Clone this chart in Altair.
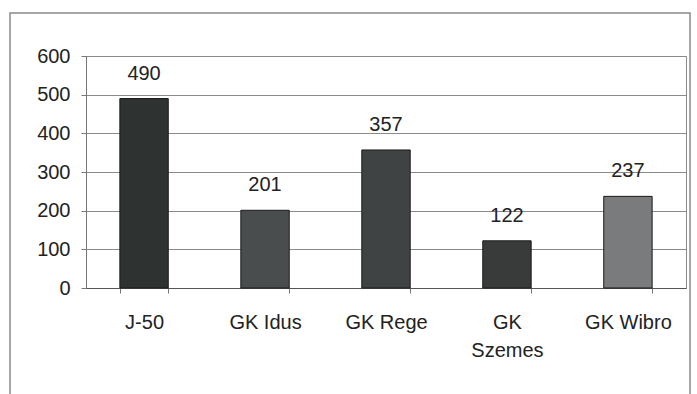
import altair as alt
import pandas as pd

categories = ["J-50", "GK Idus", "GK Rege", "GK Szemes", "GK Wibro"]
values = [490, 201, 357, 122, 237]
colors = ["#2e3230", "#4a4d4e", "#404343", "#383b3a", "#7a7b7c"]
y_ticks = [0, 100, 200, 300, 400, 500, 600]

df = pd.DataFrame({"cat": categories, "val": values, "col": colors})

FONT = "Liberation Sans"
FS = 20

x = alt.X("cat:N", sort=categories, title=None,
          scale=alt.Scale(paddingInner=0.6, paddingOuter=0.28),
          axis=alt.Axis(labelAngle=0, labelFont=FONT, labelFontSize=FS, labelColor="#222",
                        labelPadding=19, labelBaseline="top", labelLineHeight=28,
                        labelExpr="datum.label == 'GK Szemes' ? ['GK', 'Szemes'] : datum.label",
                        tickBand="extent", tickSize=5, tickColor="#777", domainColor="#555",
                        grid=False, labelOverlap=False))
y = alt.Y("val:Q", title=None,
          scale=alt.Scale(domain=[0, 600], nice=False),
          axis=alt.Axis(values=y_ticks, tickCount=7, labelFont=FONT, labelFontSize=FS,
                        labelColor="#222", labelPadding=11, tickSize=5, tickColor="#777",
                        labelOverlap=False, labelBound=False, labelFlush=False,
                        domainColor="#777", gridColor="#8a8a8a", gridWidth=1))

bars = alt.Chart(df).mark_bar(stroke="#1a1a1a", strokeWidth=1).encode(
    x=x, y=y, color=alt.Color("col:N", scale=None))

labels = alt.Chart(df).mark_text(font=FONT, fontSize=FS, color="#222", baseline="alphabetic", dy=-19).encode(
    x=x, y=y, text="val:Q")

frame = alt.Chart(pd.DataFrame({"a": [0]})).mark_rect(fill=None, stroke="#8a8a8a", strokeWidth=1.5).encode(
    x=alt.value(-76), x2=alt.value(604), y=alt.value(-43), y2=alt.value(400))

chart = alt.layer(frame, bars, labels).properties(
    width=600, height=232,
    autosize=alt.AutoSizeParams(type="none"),
    padding={"left": 86, "top": 56, "right": 11, "bottom": 106},
    background="white",
).configure_view(stroke="#8a8a8a", strokeWidth=1)

chart.save("out.html", embed_options={"renderer": "svg", "actions": False})
